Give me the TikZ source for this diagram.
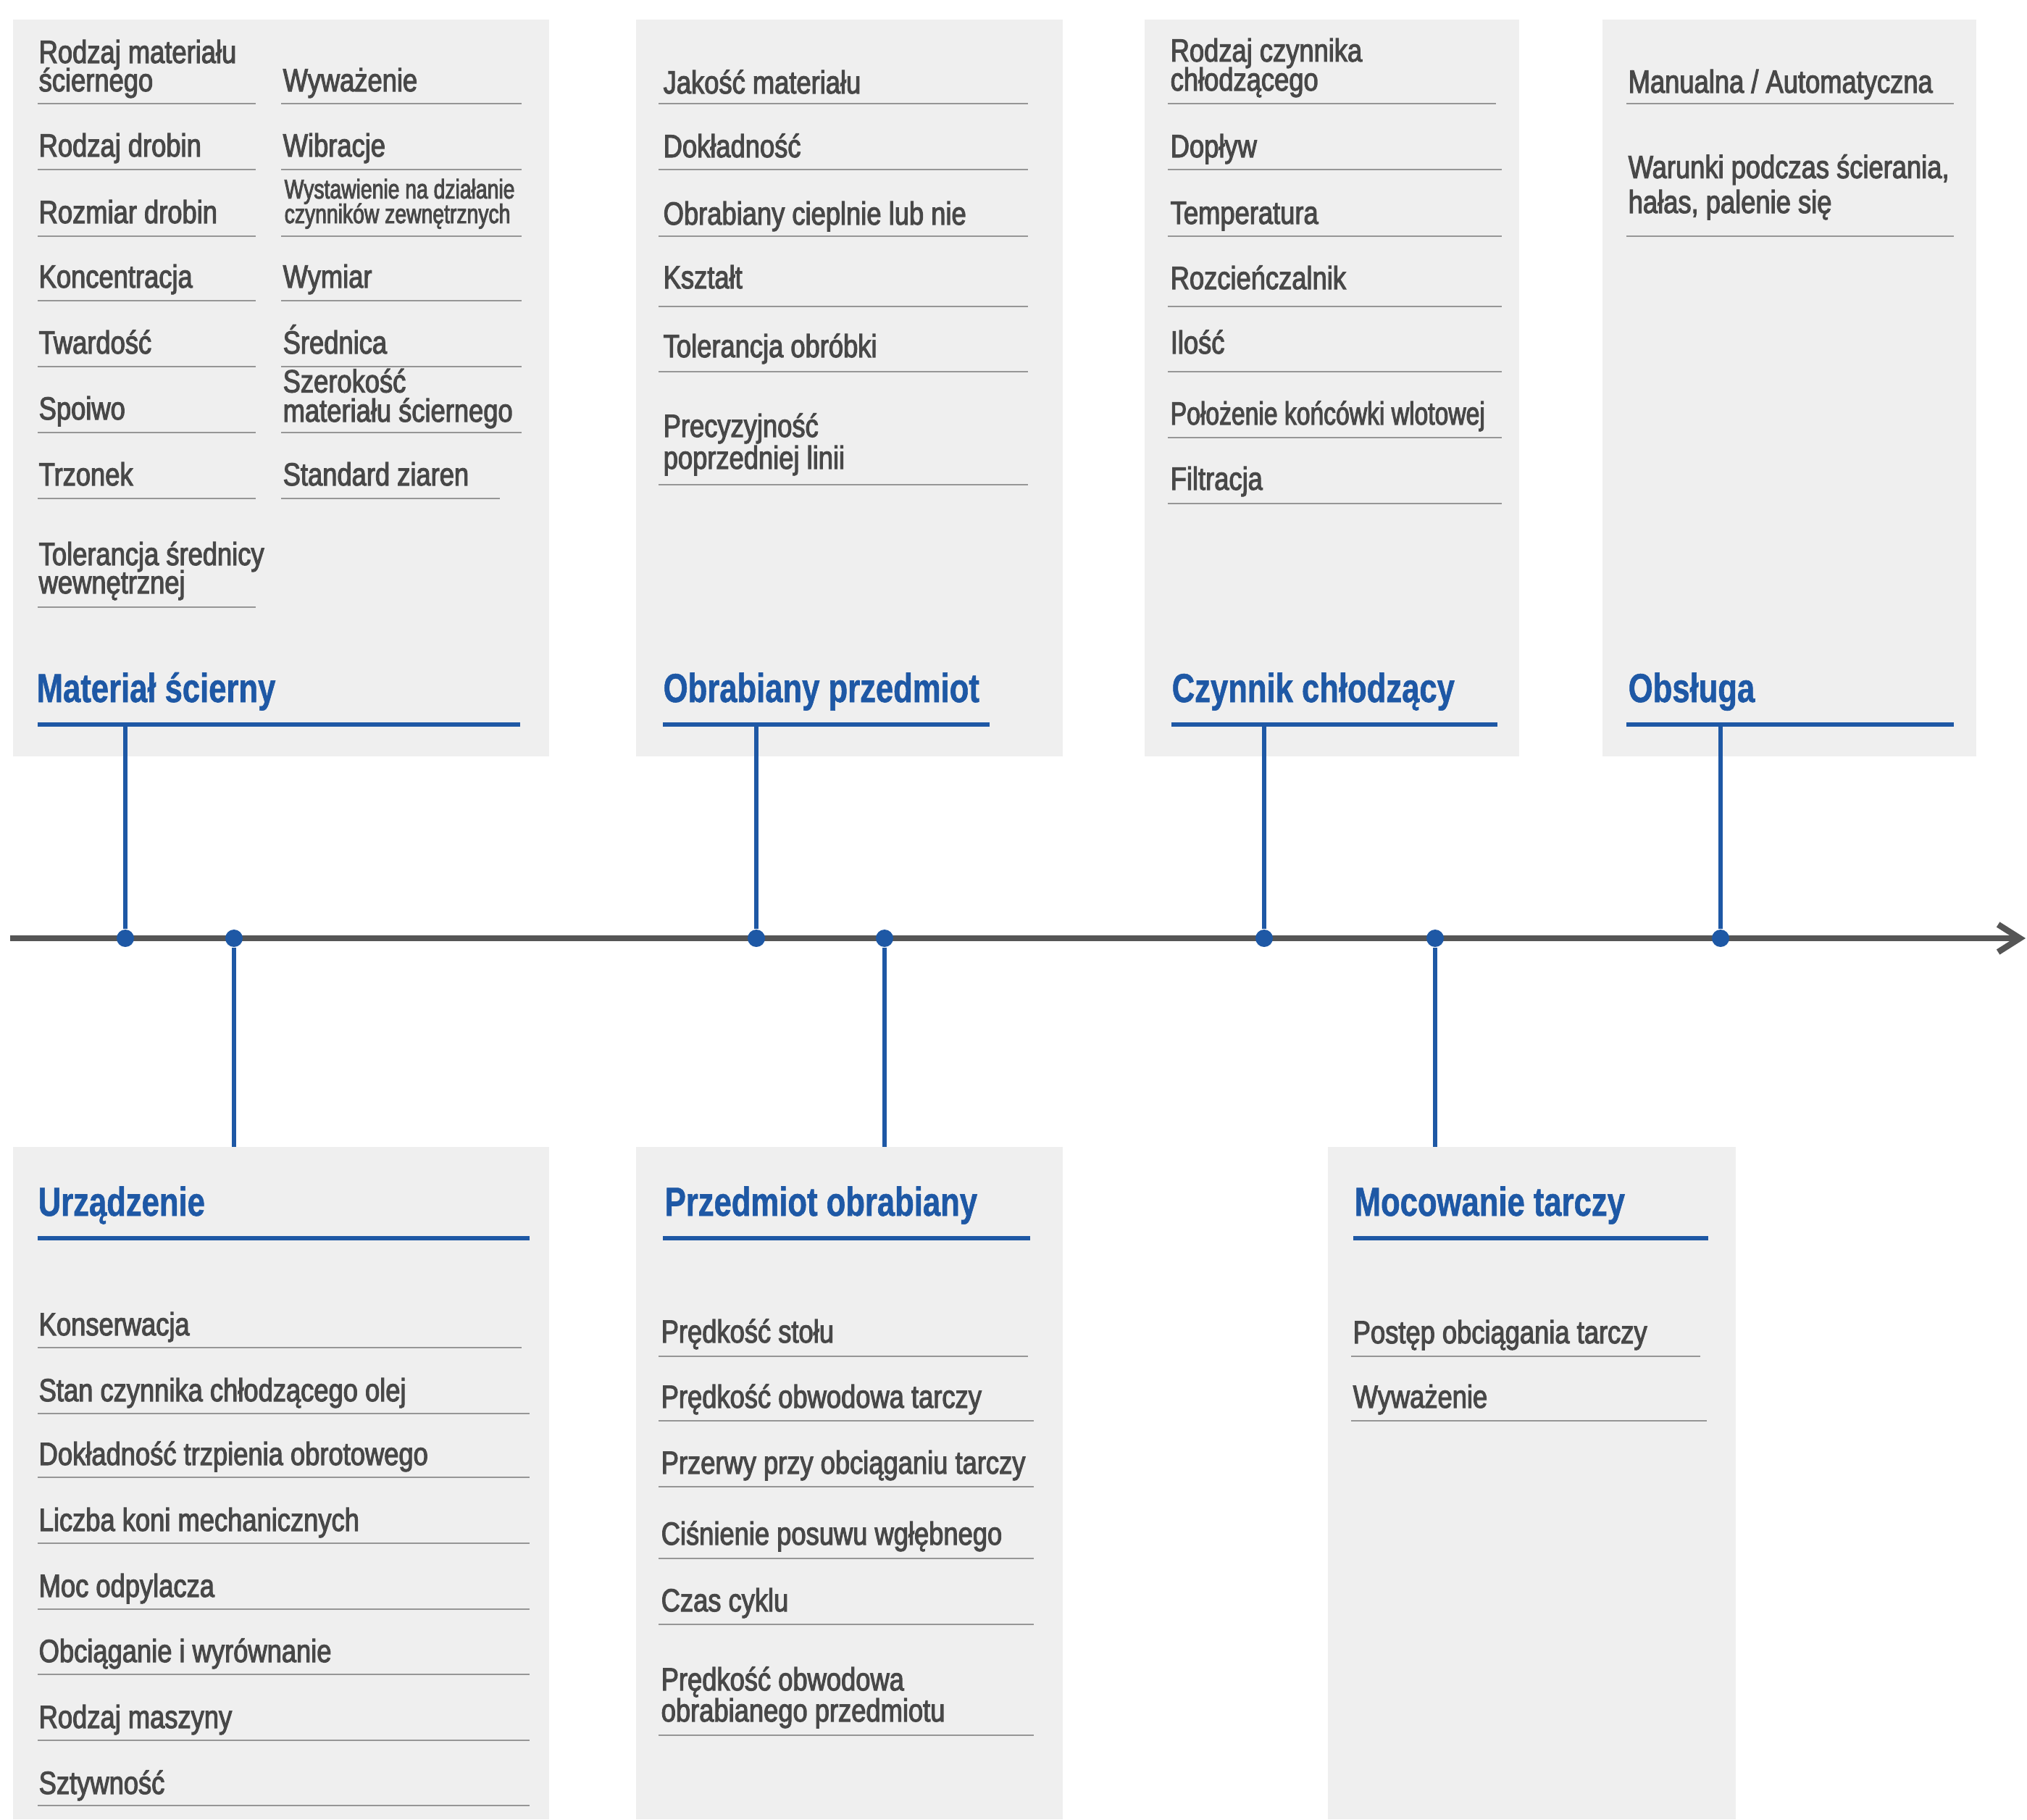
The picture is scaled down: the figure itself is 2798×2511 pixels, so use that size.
\documentclass[tikz,border=0pt]{standalone}
\usepackage{fontspec}
\setmainfont{Liberation Sans}
\newfontfamily\itemfam[FakeStretch=0.82,FakeBold=2.5]{Liberation Sans}
\newfontfamily\itemnarrowfam[FakeStretch=0.76,FakeBold=2.5]{Liberation Sans}
\newfontfamily\headfam[FakeStretch=0.78,FakeBold=1]{Liberation Sans Bold}
\usetikzlibrary{arrows.meta}
\definecolor{boxgray}{RGB}{239,239,239}
\definecolor{txtgray}{RGB}{72,72,72}
\definecolor{rulegray}{RGB}{150,150,150}
\definecolor{fishblue}{RGB}{30,88,165}
\definecolor{spinegray}{RGB}{85,85,85}
\newcommand{\twoline}[3]{\vbox{\baselineskip=#1\lineskiplimit=-100pt\lineskip=0pt\hbox{#2}\hbox{#3}}}
\tikzset{
  item/.style={anchor=base west, inner sep=0pt, text=txtgray, font=\itemfam\fontsize{12.6}{14}\selectfont},
  narrowitem/.style={item, font=\itemnarrowfam\fontsize{12.6}{14}\selectfont},
  smallitem/.style={item, font=\itemnarrowfam\fontsize{10.6}{11}\selectfont},
  head/.style={anchor=base west, inner sep=0pt, text=fishblue, font=\headfam\fontsize{15.9}{18}\selectfont},
  rule/.style={draw=rulegray, line width=0.6pt},
  headrule/.style={draw=fishblue, line width=1.8pt},
  conn/.style={draw=fishblue, line width=1.7pt},
  dot/.style={circle, fill=fishblue, inner sep=0pt, minimum size=0.24cm},
  spine/.style={draw=spinegray, line width=2.4pt, -{Straight Barb[length=0.3cm, width=0.38cm]}},
  boxfill/.style={fill=boxgray}
}
\begin{document}
\begin{tikzpicture}[x=0.01cm,y=-0.01cm]
\useasboundingbox (0,0) rectangle (2798,2511);
% ---------- boxes ----------
\fill[boxfill] (18,27) rectangle (758,1044);
\fill[boxfill] (878,27) rectangle (1467,1044);
\fill[boxfill] (1580,27) rectangle (2097,1044);
\fill[boxfill] (2212,27) rectangle (2728,1044);
\fill[boxfill] (18,1583) rectangle (758,2511);
\fill[boxfill] (878,1583) rectangle (1467,2511);
\fill[boxfill] (1833,1583) rectangle (2396,2511);
% ---------- box A: Materiał ścierny ----------
\node[item] (a1) at (53,126) {\twoline{11.1pt}{Rodzaj materiału}{ściernego}};
\node[item] (a2) at (53,216) {Rodzaj drobin};
\node[item] (a3) at (53,308) {Rozmiar drobin};
\node[item] (a4) at (53,397) {Koncentracja};
\node[item] (a5) at (53,488) {Twardość};
\node[item] (a6) at (53,579) {Spoiwo};
\node[item] (a7) at (53,670) {Trzonek};
\node[item] (a8) at (53,819) {\twoline{11.1pt}{Tolerancja średnicy}{wewnętrznej}};
\foreach \y in {143,234,326,415,506,597,688,838} \draw[rule] (52,\y) -- (353,\y);
\node[item] (b1) at (390,126) {Wyważenie};
\node[item] (b2) at (390,216) {Wibracje};
\node[smallitem] (b3) at (392,308) {\twoline{9.7pt}{Wystawienie na działanie}{czynników zewnętrznych}};
\node[item] (b4) at (390,397) {Wymiar};
\node[item] (b5) at (390,488) {Średnica};
\node[item] (b6) at (390,582) {\twoline{11.5pt}{Szerokość}{materiału ściernego}};
\node[item] (b7) at (390,670) {Standard ziaren};
\foreach \y in {143,234,326,415,506,597} \draw[rule] (388,\y) -- (720,\y);
\draw[rule] (388,688) -- (690,688);
\node[head] (hA) at (50,969) {Materiał ścierny};
\draw[headrule] (52,1000) -- (718,1000);
% ---------- box B: Obrabiany przedmiot ----------
\node[item] (c1) at (915,129) {Jakość materiału};
\node[item] (c2) at (915,217) {Dokładność};
\node[item] (c3) at (915,310) {Obrabiany cieplnie lub nie};
\node[item] (c4) at (915,398) {Kształt};
\node[item] (c5) at (915,493) {Tolerancja obróbki};
\node[item] (c6) at (915,647) {\twoline{12.5pt}{Precyzyjność}{poprzedniej linii}};
\foreach \y in {143,234,326,423,513,669} \draw[rule] (909,\y) -- (1419,\y);
\node[head] (hB) at (915,969) {Obrabiany przedmiot};
\draw[headrule] (915,1000) -- (1366,1000);
% ---------- box C: Czynnik chłodzący ----------
\node[item] (e1) at (1615,125) {\twoline{11.4pt}{Rodzaj czynnika}{chłodzącego}};
\node[item] (e2) at (1615,217) {Dopływ};
\node[item] (e3) at (1615,309) {Temperatura};
\node[item] (e4) at (1615,399) {Rozcieńczalnik};
\node[item] (e5) at (1615,488) {Ilość};
\node[narrowitem] (e6) at (1615,586) {Położenie końcówki wlotowej};
\node[item] (e7) at (1615,676) {Filtracja};
\draw[rule] (1612,143) -- (2065,143);
\foreach \y in {234,326,423,513,604,695} \draw[rule] (1612,\y) -- (2073,\y);
\node[head] (hC) at (1617,969) {Czynnik chłodzący};
\draw[headrule] (1617,1000) -- (2067,1000);
% ---------- box D: Obsługa ----------
\node[item] (f1) at (2247,128) {Manualna / Automatyczna};
\node[item] (f2) at (2247,294) {\twoline{13.7pt}{Warunki podczas ścierania,}{hałas, palenie się}};
\foreach \y in {143,326} \draw[rule] (2245,\y) -- (2697,\y);
\node[head] (hD) at (2247,969) {Obsługa};
\draw[headrule] (2245,1000) -- (2697,1000);
% ---------- box E: Urządzenie ----------
\node[head] (hE) at (52,1678) {Urządzenie};
\draw[headrule] (52,1709) -- (731,1709);
\node[item] (g1) at (53,1843) {Konserwacja};
\node[item] (g2) at (53,1934) {Stan czynnika chłodzącego olej};
\node[item] (g3) at (53,2022) {Dokładność trzpienia obrotowego};
\node[item] (g4) at (53,2113) {Liczba koni mechanicznych};
\node[item] (g5) at (53,2204) {Moc odpylacza};
\node[item] (g6) at (53,2294) {Obciąganie i wyrównanie};
\node[item] (g7) at (53,2385) {Rodzaj maszyny};
\node[item] (g8) at (53,2476) {Sztywność};
\draw[rule] (52,1860) -- (720,1860);
\foreach \y in {1951,2039,2130,2221,2311,2402,2492} \draw[rule] (52,\y) -- (731,\y);
% ---------- box F: Przedmiot obrabiany ----------
\node[head] (hF) at (917,1678) {Przedmiot obrabiany};
\draw[headrule] (915,1709) -- (1422,1709);
\node[item] (k1) at (912,1853) {Prędkość stołu};
\node[item] (k2) at (912,1943) {Prędkość obwodowa tarczy};
\node[item] (k3) at (912,2034) {Przerwy przy obciąganiu tarczy};
\node[item] (k4) at (912,2132) {Ciśnienie posuwu wgłębnego};
\node[item] (k5) at (912,2224) {Czas cyklu};
\node[item] (k6) at (912,2376) {\twoline{12.2pt}{Prędkość obwodowa}{obrabianego przedmiotu}};
\draw[rule] (909,1872) -- (1419,1872);
\foreach \y in {1961,2052,2151,2242,2395} \draw[rule] (909,\y) -- (1427,\y);
% ---------- box G: Mocowanie tarczy ----------
\node[head] (hG) at (1869,1678) {Mocowanie tarczy};
\draw[headrule] (1868,1709) -- (2358,1709);
\node[item] (m1) at (1867,1854) {Postęp obciągania tarczy};
\node[item] (m2) at (1867,1943) {Wyważenie};
\draw[rule] (1865,1872) -- (2347,1872);
\draw[rule] (1865,1961) -- (2356,1961);
% ---------- spine ----------
\coordinate (s0) at (14,1295);
\coordinate (s1) at (2796,1295);
\draw[spine] (s0) -- (s1);
% ---------- connectors ----------
\coordinate (tA) at (173,1000);
\coordinate (tB) at (1044,1000);
\coordinate (tC) at (1745,1000);
\coordinate (tD) at (2375,1000);
\coordinate (uE) at (323,1583);
\coordinate (uF) at (1221,1583);
\coordinate (uG) at (1981,1583);
\node[dot] (dA) at (173,1295) {};
\node[dot] (dE) at (323,1295) {};
\node[dot] (dB) at (1044,1295) {};
\node[dot] (dF) at (1221,1295) {};
\node[dot] (dC) at (1745,1295) {};
\node[dot] (dG) at (1981,1295) {};
\node[dot] (dD) at (2375,1295) {};
\draw[conn] (tA) -- (dA);
\draw[conn] (tB) -- (dB);
\draw[conn] (tC) -- (dC);
\draw[conn] (tD) -- (dD);
\draw[conn] (dE) -- (uE);
\draw[conn] (dF) -- (uF);
\draw[conn] (dG) -- (uG);
\end{tikzpicture}
\end{document}
